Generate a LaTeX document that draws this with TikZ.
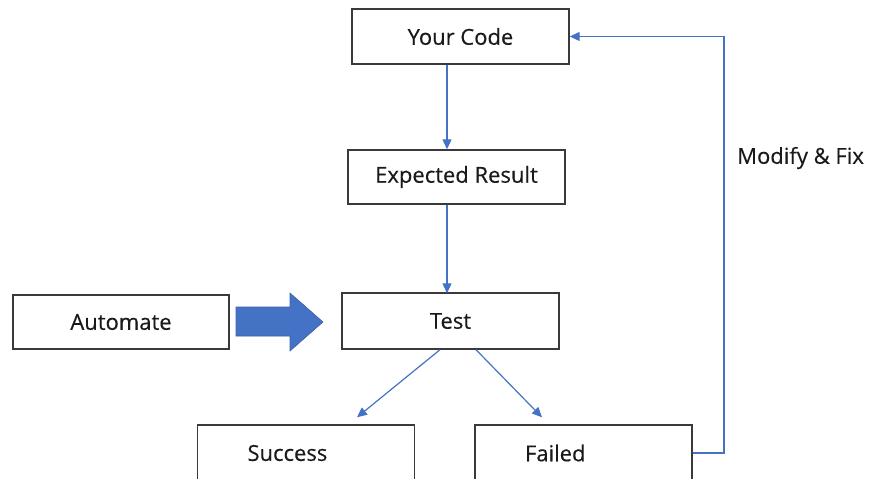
\documentclass[tikz,border=0pt]{standalone}
\usepackage{fontspec}
\setmainfont{Open Sans}[UprightFeatures={FakeBold=0.35}]
\usetikzlibrary{arrows.meta,calc}
\definecolor{flowblue}{HTML}{4472C4}
\definecolor{boxline}{HTML}{3A3A3A}
\definecolor{inktext}{HTML}{1A1A1A}
\tikzset{
  labelfont/.style={font=\fontsize{22}{24}\selectfont},
  stepbox/.style={draw=boxline, line width=1.4pt, fill=white, text=inktext,
    minimum width=217pt, minimum height=55pt, inner sep=0pt, labelfont},
  leftbox/.style={stepbox, text width=117pt, inner xsep=50pt, align=left},
  flow/.style={draw=flowblue, line width=1.2pt,
    -{Triangle[length=10pt,width=9pt]}},
  bigarrow/.style={fill=flowblue, draw=flowblue!85!black, line width=0.6pt},
}
\begin{document}
\begin{tikzpicture}[x=1pt,y=-1pt]
  \useasboundingbox (0,0) rectangle (873,479);
  \clip (0,0) rectangle (873,479);

  % process boxes
  \node[stepbox, minimum width=217pt] (yourcode) at (460.5,36.5) {Your Code};
  \node[stepbox, minimum width=217pt, minimum height=54pt] (expected) at (456.5,177) {Expected Result};
  \node[stepbox, minimum width=217pt, minimum height=56pt] (test) at (450.5,321) {Test};
  \node[stepbox, minimum width=216pt, minimum height=54pt] (automate) at (121,322) {Automate};
  \node[leftbox, minimum height=56pt] (success) at (306,453) {Success};
  \node[leftbox, minimum height=56pt] (failed) at (583.5,453) {Failed};

  % block arrow feeding the test step
  \fill[bigarrow] (236,307) -- (290,307) -- (290,293) -- (323,322)
    -- (290,351) -- (290,336) -- (236,336) -- cycle;

  % main flow
  \draw[flow] ([xshift=-13.5pt]yourcode.south) -- ([xshift=-9.5pt]expected.north);
  \draw[flow] ([xshift=-9.5pt]expected.south) -- ([yshift=-1pt]test.north -| 447,0);
  \draw[flow] ([xshift=-10.5pt]test.south) -- ($(success.north)+(51,-7)$);
  \draw[flow] ([xshift=25.5pt]test.south) -- ($(failed.north)+(-41.5,-7)$);

  % feedback loop
  \coordinate (loop) at (724,0);
  \draw[flow] (failed.east) -| (loop |- yourcode.east) -- (yourcode.east);
  \node[labelfont, text=inktext, anchor=west, inner sep=0pt]
    (fixlabel) at (737,158) {Modify \& Fix};
\end{tikzpicture}
\end{document}
